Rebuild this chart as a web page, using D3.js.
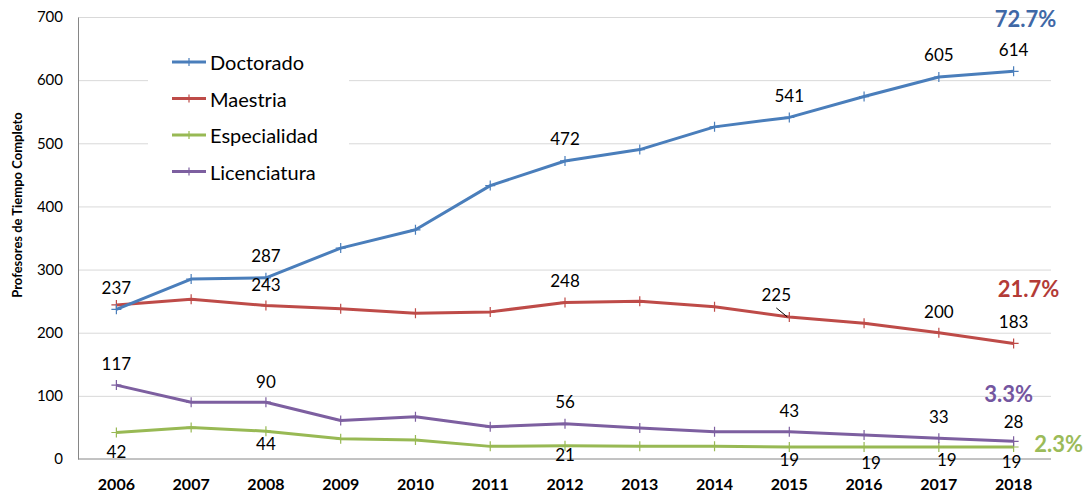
<!DOCTYPE html>
<html>
<head>
<meta charset="utf-8">
<script src="https://cdn.jsdelivr.net/npm/d3@7"></script>
<style>
  body { margin: 0; background: #fff; }
  svg { display: block; font-family: Lato, "Open Sans", sans-serif; }
</style>
</head>
<body>
<div id="chart"></div>
<script>
const years = ['2006','2007','2008','2009','2010','2011','2012','2013','2014','2015','2016','2017','2018'];
const seriesNames = ['Doctorado', 'Maestria', 'Especialidad', 'Licenciatura'];

const doctorado    = [237, 285, 287, 334, 363, 433, 472, 490, 526, 541, 574, 605, 614];
const maestria     = [244, 253, 243, 238, 231, 233, 248, 250, 241, 225, 215, 200, 183];
const especialidad = [42, 50, 44, 32, 30, 20, 21, 20, 20, 19, 19, 19, 19];
const licenciatura = [117, 90, 90, 61, 67, 51, 56, 49, 43, 43, 38, 33, 28];

// which points carry a value label
const doctoradoLabels    = [0, 2, 6, 9, 11, 12];
const maestriaLabels     = [2, 6, 9, 11, 12];
const especialidadLabels = [0, 2, 6, 9, 10, 11, 12];
const licenciaturaLabels = [0, 2, 6, 9, 11, 12];

const shares = ['72.7%', '21.7%', '2.3%', '3.3%'];
const yTicks = [0, 100, 200, 300, 400, 500, 600, 700];

const width = 1092, height = 495;
const margin = { top: 17, right: 41, bottom: 36, left: 78 };

const colors = ['#4A7EBB', '#BE4B48', '#98B954', '#7D5FA0'];
const shareColors = ['#3F68A6', '#B33B37', '#9BBB59', '#7456A0'];

const series = [
  { name: seriesNames[0], values: doctorado,    labels: doctoradoLabels },
  { name: seriesNames[1], values: maestria,     labels: maestriaLabels },
  { name: seriesNames[2], values: especialidad, labels: especialidadLabels },
  { name: seriesNames[3], values: licenciatura, labels: licenciaturaLabels }
];

// label nudges (dx, dy from the point), by series then point index
const labelOffsets = {
  Doctorado:    {},
  Maestria:     { 2: [0, -21], 9: [-13, -22], 11: [0, -21] },
  Especialidad: { 0: [0, 19], 2: [0, 12], 6: [0, 9], 9: [0, 12], 10: [7, 15], 11: [8, 12], 12: [-2, 14] },
  Licenciatura: { 2: [0, -21], 9: [0, -21], 12: [0, -20] }
};
const shareOffsets = [[12, -53], [15, -55], [45, -4], [-5, -48]];

const svg = d3.select('#chart')
  .append('svg')
  .attr('width', width)
  .attr('height', height);

const x = d3.scaleBand()
  .domain(years)
  .range([margin.left + 1, width - margin.right]);

const y = d3.scaleLinear()
  .domain([0, 700])
  .range([height - margin.bottom, margin.top]);

const cx = d => x(d) + x.bandwidth() / 2;

// gridlines
svg.append('g')
  .attr('transform', `translate(${margin.left},0)`)
  .call(d3.axisLeft(y).tickValues(yTicks.slice(1)).tickSize(-(width - margin.right - margin.left)).tickFormat(''))
  .call(g => g.select('.domain').remove())
  .call(g => g.selectAll('line').attr('stroke', '#D9D9D9').attr('stroke-width', 1));

// y axis
svg.append('g')
  .attr('transform', `translate(${margin.left},0)`)
  .call(d3.axisLeft(y).tickValues(yTicks).tickSize(0).tickPadding(15))
  .call(g => g.select('.domain').attr('stroke', '#868686'))
  .call(g => g.selectAll('text').attr('font-size', '15px').attr('fill', '#000').attr('font-family', 'Lato, sans-serif'));

// x axis
svg.append('g')
  .attr('transform', `translate(0,${y(0)})`)
  .call(d3.axisBottom(x).tickSize(0).tickPadding(20))
  .call(g => g.select('.domain').attr('stroke', '#868686').attr('d', `M${margin.left},0H${width - margin.right}`))
  .call(g => g.selectAll('text').attr('font-size', '16px').attr('font-weight', 'bold').attr('fill', '#000').attr('font-family', 'Lato, sans-serif'));

svg.append('text')
  .attr('transform', 'rotate(-90)')
  .attr('x', -205)
  .attr('y', 22)
  .attr('text-anchor', 'middle')
  .attr('font-size', '13px')
  .attr('font-weight', 'bold')
  .text('Profesores de Tiempo Completo');

// legend (white box hides gridlines behind it)
const legend = svg.append('g');
legend.append('rect')
  .attr('x', 148).attr('y', 40).attr('width', 201).attr('height', 152)
  .attr('fill', '#fff');

const plus = (px, py, s) => `M${px - s},${py}H${px + s}M${px},${py - s}V${py + s}`;

series.forEach((s, i) => {
  const ly = 62 + i * 36.5;
  legend.append('line')
    .attr('x1', 172).attr('x2', 206).attr('y1', ly).attr('y2', ly)
    .attr('stroke', colors[i]).attr('stroke-width', 3);
  legend.append('path')
    .attr('d', plus(189, ly, 4))
    .attr('stroke', colors[i]).attr('stroke-width', 1.2);
  legend.append('text')
    .attr('x', 210).attr('y', ly)
    .attr('dominant-baseline', 'central')
    .attr('font-size', '20px')
    .text(s.name);
});

const line = d3.line()
  .x((d, i) => cx(years[i]))
  .y(d => y(d));

// draw lower series first so Doctorado ends on top
[2, 3, 1, 0].forEach(i => {
  const s = series[i];
  svg.append('path')
    .datum(s.values)
    .attr('fill', 'none')
    .attr('stroke', colors[i])
    .attr('stroke-width', 3)
    .attr('stroke-linejoin', 'round')
    .attr('d', line);

  svg.append('g')
    .selectAll('path')
    .data(s.values)
    .join('path')
    .attr('d', (d, j) => plus(cx(years[j]), y(d), 5))
    .attr('stroke', colors[i])
    .attr('stroke-width', 1.2);
});

// value labels
series.forEach((s, i) => {
  s.labels.forEach(j => {
    const off = labelOffsets[s.name][j] || [0, -22];
    const px = cx(years[j]), py = y(s.values[j]);
    svg.append('text')
      .attr('x', px + off[0])
      .attr('y', py + off[1])
      .attr('text-anchor', 'middle')
      .attr('dominant-baseline', 'central')
      .attr('font-size', '17px')
      .text(s.values[j]);
  });
});

// leader line for Maestria 2015
{
  const px = cx(years[9]), py = y(maestria[9]);
  svg.append('line')
    .attr('x1', px - 13).attr('y1', py - 9)
    .attr('x2', px - 2).attr('y2', py)
    .attr('stroke', '#000').attr('stroke-width', 1);
}

// share of total in 2018
series.forEach((s, i) => {
  const last = s.values.length - 1;
  svg.append('text')
    .attr('x', cx(years[last]) + shareOffsets[i][0])
    .attr('y', y(s.values[last]) + shareOffsets[i][1])
    .attr('text-anchor', 'middle')
    .attr('dominant-baseline', 'central')
    .attr('font-size', '22px')
    .attr('font-weight', 'bold')
    .attr('fill', shareColors[i])
    .text(shares[i]);
});
</script>
</body>
</html>
